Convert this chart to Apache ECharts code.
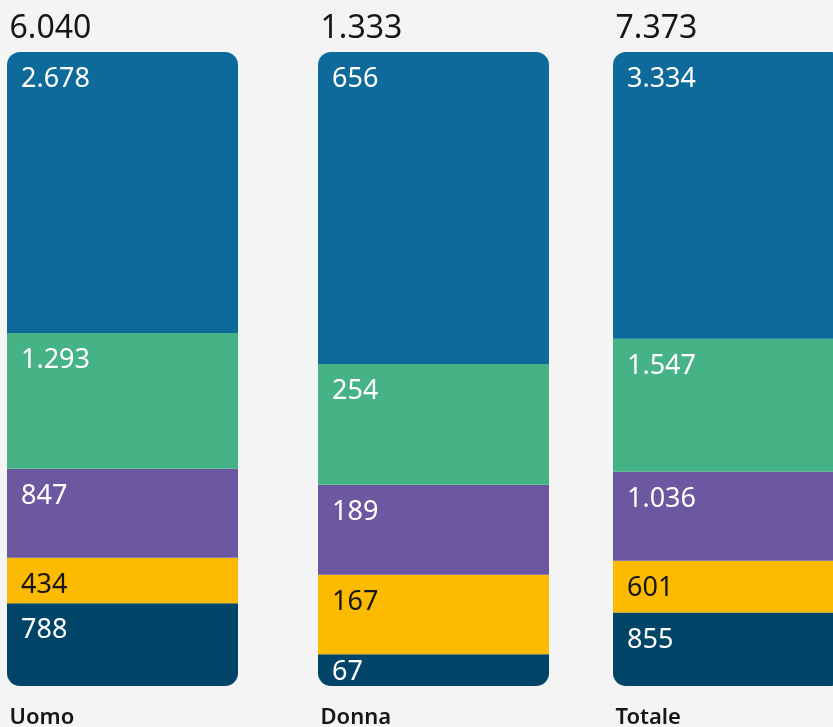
<!DOCTYPE html>
<html>
<head>
<meta charset="utf-8">
<script src="https://cdn.jsdelivr.net/npm/echarts@6/dist/echarts.min.js"></script>
<style>
  html, body { margin: 0; padding: 0; background: #f4f4f4; }
  #chart { width: 833px; height: 727px; }
</style>
</head>
<body>
<div id="chart"></div>
<script>
  // categorie (una colonna per ciascuna)
  var categories = ['Uomo', 'Donna', 'Totale'];
  // segmenti dal basso verso l'alto
  var seg1 = [788, 67, 855];
  var seg2 = [434, 167, 601];
  var seg3 = [847, 189, 1036];
  var seg4 = [1293, 254, 1547];
  var seg5 = [2678, 656, 3334];
  var totals = [6040, 1333, 7373];

  var segments = [seg1, seg2, seg3, seg4, seg5];
  var colors = ['#004468', '#fcbb00', '#6c58a0', '#46b386', '#0e6a9b'];
  var labelColors = ['#ffffff', '#161616', '#ffffff', '#ffffff', '#ffffff'];
  var font = '"Noto Sans", sans-serif';

  function fmt(n) {
    return String(n).replace(/\B(?=(\d{3})+(?!\d))/g, '.');
  }

  var lefts = [7, 318, 613];
  var grids = [], xAxes = [], yAxes = [], series = [];

  categories.forEach(function (cat, c) {
    grids.push({ left: lefts[c], width: 231, top: 52, bottom: 41, outerBoundsMode: 'none', containLabel: false });
    // asse in basso: nome categoria
    xAxes.push({
      type: 'category', gridIndex: c, data: [cat], position: 'bottom',
      axisLine: { show: false }, axisTick: { show: false },
      axisLabel: {
        margin: 21, formatter: function (v) { return '{a|' + v + '}'; },
        rich: { a: { width: 226, align: 'left', fontSize: 22, fontWeight: 600, color: '#161616', fontFamily: font } }
      }
    });
    // asse in alto: totale
    xAxes.push({
      type: 'category', gridIndex: c, data: [fmt(totals[c])], position: 'top',
      axisLine: { show: false }, axisTick: { show: false },
      axisLabel: {
        margin: 7, formatter: function (v) { return '{a|' + v + '}'; },
        rich: { a: { width: 226, align: 'left', fontSize: 32, color: '#161616', fontFamily: font } }
      }
    });
    yAxes.push({ type: 'value', gridIndex: c, min: 0, max: 100, show: false });

    segments.forEach(function (arr, s) {
      var pct = arr[c] / totals[c] * 100;
      var radius = s === 0 ? [0, 0, 13, 13] : (s === segments.length - 1 ? [13, 13, 0, 0] : 0);
      series.push({
        type: 'bar', stack: 'tot' + c,
        xAxisIndex: c * 2, yAxisIndex: c,
        barWidth: '100%', silent: true,
        itemStyle: { color: colors[s], borderRadius: radius },
        label: {
          show: true, position: pct < 6 ? [14, 5] : [14, 14],
          formatter: function () { return fmt(arr[c]); },
          color: labelColors[s], fontSize: 27, fontFamily: font
        },
        data: [pct]
      });
    });
  });

  var chart = echarts.init(document.getElementById('chart'));
  chart.setOption({
    backgroundColor: '#f4f4f4',
    animation: false,
    grid: grids,
    xAxis: xAxes,
    yAxis: yAxes,
    series: series
  });
</script>
</body>
</html>
